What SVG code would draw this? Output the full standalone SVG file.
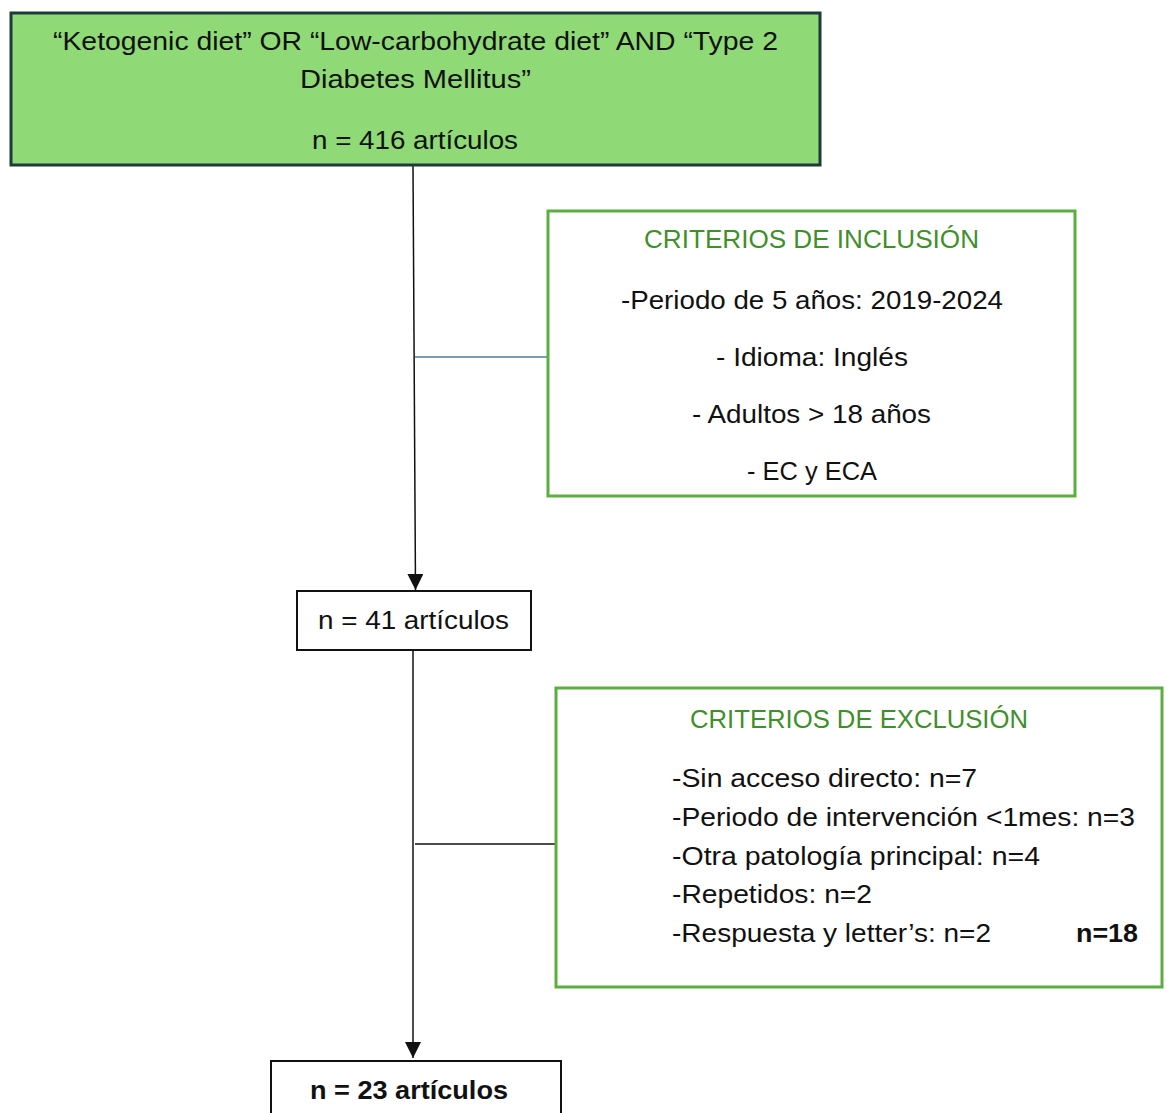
<svg xmlns="http://www.w3.org/2000/svg" width="1167" height="1113" viewBox="0 0 1167 1113">
<defs>
<style>
text{font-family:"Liberation Sans",Arial,sans-serif;font-size:26px;fill:#111}
.c{text-anchor:middle}
.g{fill:#3F8F2B}
.b{font-weight:bold}
.crit{fill:#fff;stroke:#5BAE3F;stroke-width:3}
.plain{fill:#fff;stroke:#111;stroke-width:2}
.ln{stroke:#111;stroke-width:1.5;fill:none}
</style>
<marker id="ah" viewBox="0 0 10 10" refX="10" refY="5" markerWidth="16" markerHeight="16" markerUnits="userSpaceOnUse" orient="auto"><path d="M0,0L10,5L0,10z" fill="#111"/></marker>
</defs>
<rect width="1167" height="1113" fill="#fff"/>
<g id="connectors">
<line class="ln" x1="413" y1="166" x2="415.5" y2="590" marker-end="url(#ah)"/>
<line x1="415" y1="357" x2="548" y2="357" stroke="#4C7FA0" stroke-width="1.5"/>
<line class="ln" x1="413" y1="651" x2="413" y2="1058" marker-end="url(#ah)"/>
<line class="ln" x1="415" y1="844" x2="561" y2="844"/>
</g>
<g id="search">
<rect x="11" y="13" width="809" height="152" fill="#8FD977" stroke="#1E3B3B" stroke-width="3"/>
<text class="c" x="415.5" y="50" textLength="725" lengthAdjust="spacingAndGlyphs">“Ketogenic diet” OR “Low-carbohydrate diet” AND “Type 2</text>
<text class="c" x="415.5" y="88" textLength="231" lengthAdjust="spacingAndGlyphs">Diabetes Mellitus”</text>
<text class="c" x="415" y="149" textLength="206" lengthAdjust="spacingAndGlyphs">n = 416 artículos</text>
</g>
<g id="inclusion">
<rect class="crit" x="548" y="211" width="527" height="285"/>
<text class="c g" x="811.5" y="248" textLength="335" lengthAdjust="spacingAndGlyphs">CRITERIOS DE INCLUSIÓN</text>
<text class="c" x="812" y="309" textLength="382" lengthAdjust="spacingAndGlyphs">-Periodo de 5 años: 2019-2024</text>
<text class="c" x="812" y="366" textLength="192" lengthAdjust="spacingAndGlyphs">- Idioma: Inglés</text>
<text class="c" x="811.5" y="423" textLength="239" lengthAdjust="spacingAndGlyphs">- Adultos &gt; 18 años</text>
<text class="c" x="812" y="480" textLength="130" lengthAdjust="spacingAndGlyphs">- EC y ECA</text>
</g>
<g id="n41">
<rect class="plain" x="297" y="591" width="234" height="59"/>
<text class="c" x="413.5" y="629" textLength="191" lengthAdjust="spacingAndGlyphs">n = 41 artículos</text>
</g>
<g id="exclusion">
<rect class="crit" x="556" y="688" width="606" height="299"/>
<text class="c g" x="859" y="728" textLength="338" lengthAdjust="spacingAndGlyphs">CRITERIOS DE EXCLUSIÓN</text>
<text x="672" y="787" textLength="305" lengthAdjust="spacingAndGlyphs">-Sin acceso directo: n=7</text>
<text x="672" y="826" textLength="463" lengthAdjust="spacingAndGlyphs">-Periodo de intervención &lt;1mes: n=3</text>
<text x="672" y="865" textLength="368" lengthAdjust="spacingAndGlyphs">-Otra patología principal: n=4</text>
<text x="672" y="903" textLength="200" lengthAdjust="spacingAndGlyphs">-Repetidos: n=2</text>
<text x="672" y="942" textLength="319" lengthAdjust="spacingAndGlyphs">-Respuesta y letter’s: n=2</text>
<text class="b" x="1076" y="942" textLength="62" lengthAdjust="spacingAndGlyphs">n=18</text>
</g>
<g id="n23">
<rect class="plain" x="271" y="1061" width="290" height="60"/>
<text class="c b" x="409" y="1099" textLength="198" lengthAdjust="spacingAndGlyphs">n = 23 artículos</text>
</g>
</svg>
